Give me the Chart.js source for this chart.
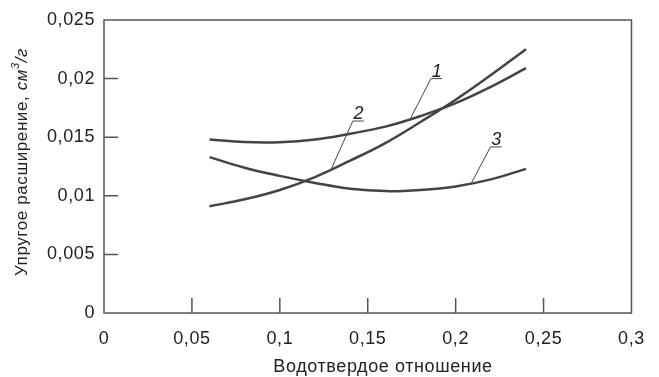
<!DOCTYPE html>
<html lang="ru">
<head>
<meta charset="utf-8">
<title>Упругое расширение</title>
<script src="https://cdn.jsdelivr.net/npm/chart.js@4/dist/chart.umd.min.js"></script>
<style>
    html, body { margin: 0; padding: 0; background: #fff; }
    #chartBox { width: 659px; height: 377px; }
</style>
</head>
<body>
<div id="chartBox"><canvas id="expansionChart"></canvas></div>
<script>
// Chart data
const waterRatio = [0.06, 0.08, 0.10, 0.12, 0.14, 0.16, 0.18, 0.20, 0.22, 0.24];
const curve1 = [0.0148, 0.01458, 0.01457, 0.0148, 0.0153, 0.0159, 0.0168, 0.0179, 0.0193, 0.0209];
const curve2 = [0.0091, 0.0097, 0.0105, 0.0116, 0.0130, 0.0145, 0.0163, 0.0182, 0.0203, 0.0225];
const curve3 = [0.0133, 0.0124, 0.0117, 0.0111, 0.0106, 0.0104, 0.0105, 0.0108, 0.0114, 0.0123];

// Curve labels: text and the point on the curve where the leader line ends
const curveLabels = ['1', '2', '3'];
const labelAtX = [0.174, 0.129, 0.209];
const labelAtY = [0.0165, 0.0122, 0.0111];

const xTitle = 'Водотвердое отношение';
const yTitle = 'Упругое расширение, ';

const INK = '#444';
const FONT = "'Liberation Sans', Arial, sans-serif";

document.addEventListener('DOMContentLoaded', function() {
    initializeChart();
});

function formatComma(value) {
    return parseFloat(value.toFixed(4)).toString().replace('.', ',');
}

function toPoints(values) {
    return waterRatio.map((x, i) => ({ x: x, y: values[i] }));
}

// Slightly wider tracking, like the printed figure
const spacingPlugin = {
    id: 'spacing',
    beforeDraw(chart) {
        chart.ctx.letterSpacing = '0.6px';
    }
};

// Box, inward tick marks, axis titles and curve labels
const decorPlugin = {
    id: 'decor',
    afterDraw(chart) {
        const ctx = chart.ctx;
        const area = chart.chartArea;
        const xs = chart.scales.x;
        const ys = chart.scales.y;
        ctx.save();

        // frame
        ctx.strokeStyle = '#555';
        ctx.lineWidth = 1.5;
        ctx.strokeRect(area.left, area.top, area.right - area.left, area.bottom - area.top);

        // inward ticks
        ctx.beginPath();
        xs.ticks.forEach(t => {
            if (t.value <= xs.min || t.value >= xs.max) return;
            const px = xs.getPixelForValue(t.value);
            ctx.moveTo(px, area.bottom);
            ctx.lineTo(px, area.bottom - 15);
        });
        ys.ticks.forEach(t => {
            if (t.value <= ys.min || t.value >= ys.max) return;
            const py = ys.getPixelForValue(t.value);
            ctx.moveTo(area.left, py);
            ctx.lineTo(area.left + 14, py);
        });
        ctx.stroke();

        // x title
        ctx.fillStyle = '#222';
        ctx.font = '18px ' + FONT;
        ctx.textAlign = 'center';
        ctx.textBaseline = 'middle';
        ctx.fillText(xTitle, 383, 367);

        // y title (units in italics, with superscript)
        ctx.translate(22, 162);
        ctx.rotate(-Math.PI / 2);
        ctx.textAlign = 'left';
        const base = '17px ' + FONT;
        const ital = 'italic 17px ' + FONT;
        const sup = 'italic 11px ' + FONT;
        ctx.font = base;
        const w1 = ctx.measureText(yTitle).width;
        ctx.font = ital;
        const w2 = ctx.measureText('см').width;
        ctx.font = sup;
        const w3 = ctx.measureText('3').width;
        ctx.font = ital;
        const w4 = ctx.measureText('/г').width;
        let x0 = -(w1 + w2 + w3 + w4) / 2;
        ctx.font = base;
        ctx.fillText(yTitle, x0, 0);
        x0 += w1;
        ctx.font = ital;
        ctx.fillText('см', x0, 0);
        x0 += w2;
        ctx.font = sup;
        ctx.fillText('3', x0, -6);
        x0 += w3;
        ctx.font = ital;
        ctx.fillText('/г', x0, 0);
        ctx.setTransform(1, 0, 0, 1, 0, 0);

        // curve labels with leader lines
        const offsets = [[21, -41], [22, -49], [19, -36]];
        ctx.strokeStyle = INK;
        ctx.lineWidth = 1;
        ctx.font = 'italic 18px ' + FONT;
        ctx.textAlign = 'center';
        ctx.textBaseline = 'alphabetic';
        curveLabels.forEach((label, i) => {
            const px = xs.getPixelForValue(labelAtX[i]);
            const py = ys.getPixelForValue(labelAtY[i]);
            const ex = px + offsets[i][0];
            const ey = py + offsets[i][1];
            ctx.beginPath();
            ctx.moveTo(px, py);
            ctx.lineTo(ex, ey);
            ctx.lineTo(ex + 11, ey);
            ctx.stroke();
            ctx.fillText(label, ex + 6, ey - 2);
        });

        ctx.restore();
    }
};

function initializeChart() {
    const canvas = document.getElementById('expansionChart');
    const series = [curve1, curve2, curve3];

    new Chart(canvas.getContext('2d'), {
        type: 'line',
        data: {
            datasets: series.map((values, i) => ({
                label: curveLabels[i],
                data: toPoints(values),
                borderColor: INK,
                borderWidth: 2.5,
                pointRadius: 0,
                tension: 0.4,
                fill: false
            }))
        },
        options: {
            responsive: true,
            maintainAspectRatio: false,
            animation: false,
            events: [],
            layout: {
                padding: { top: 20, right: 19, left: 0, bottom: 0 }
            },
            plugins: {
                legend: { display: false },
                tooltip: { enabled: false }
            },
            scales: {
                x: {
                    type: 'linear',
                    min: 0,
                    max: 0.3,
                    grid: { display: false, drawTicks: false },
                    border: { display: false },
                    ticks: {
                        stepSize: 0.05,
                        padding: 15,
                        color: '#222',
                        font: { family: FONT, size: 18 },
                        maxRotation: 0,
                        callback: formatComma
                    },
                    afterFit(scale) { scale.height = 64; }
                },
                y: {
                    min: 0,
                    max: 0.025,
                    grid: { display: false, drawTicks: false },
                    border: { display: false },
                    ticks: {
                        stepSize: 0.005,
                        padding: 9,
                        color: '#222',
                        font: { family: FONT, size: 18 },
                        callback: formatComma
                    },
                    afterFit(scale) { scale.width = 104; }
                }
            }
        },
        plugins: [spacingPlugin, decorPlugin]
    });
}
</script>
</body>
</html>
